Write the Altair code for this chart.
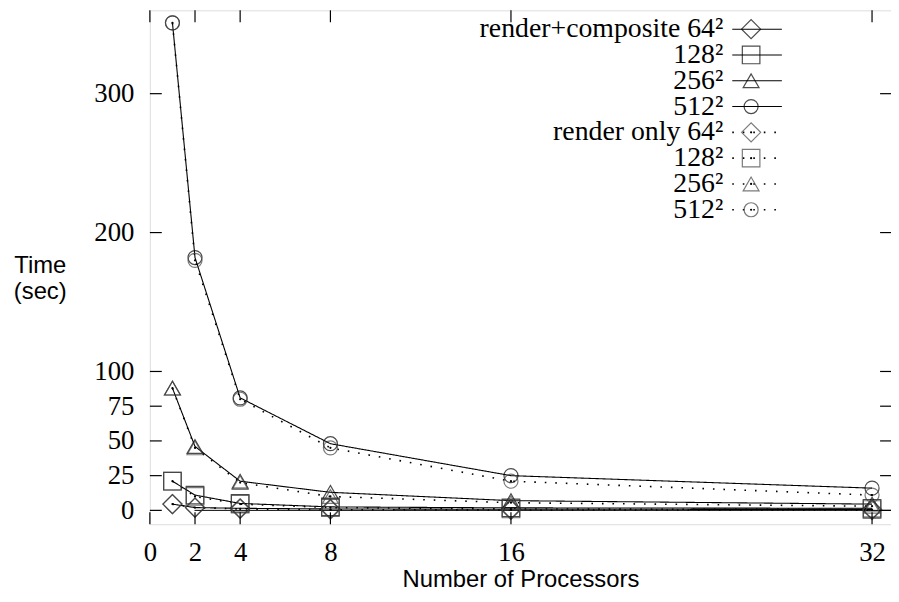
import altair as alt
import pandas as pd

# ---------------- data ----------------
procs = [1, 2, 4, 8, 16, 32]
sizes = ["64²", "128²", "256²", "512²"]

rc_64 = [4.5, 2.0, 1.5, 1.0, 0.8, 0.7]
rc_128 = [21, 11, 5, 2.5, 1.8, 1.5]
rc_256 = [88, 46, 21, 13, 7, 4.5]
rc_512 = [351, 182, 81, 48, 25, 16]

ro_64 = [4.5, 2.0, 1.0, 0.5, 0.3, 0.2]
ro_128 = [21, 10, 4.5, 2.0, 1.0, 0.6]
ro_256 = [88, 45, 20, 10, 5.5, 3]
ro_512 = [351, 180, 80, 45, 21, 11]

x_ticks = [0, 2, 4, 8, 16, 32]
y_ticks = [0, 25, 50, 75, 100, 200, 300]

legend_labels = ["render+composite 64²", "128²", "256²", "512²",
                 "render only 64²", "128²", "256²", "512²"]

# ---------------- layout constants ----------------
W, H = 747, 518
SERIF = "Liberation Serif"
SANS = "Liberation Sans"

rows = []
series = [("rc", s, v) for s, v in zip(sizes, [rc_64, rc_128, rc_256, rc_512])] + \
         [("ro", s, v) for s, v in zip(sizes, [ro_64, ro_128, ro_256, ro_512])]
for kind, s, vals in series:
    for p, v in zip(procs, vals):
        rows.append({"kind": kind, "size": s, "series": kind + s, "procs": p, "time": v})
df = pd.DataFrame(rows)

leg = pd.DataFrame({
    "label": legend_labels,
    "kind": ["rc"] * 4 + ["ro"] * 4,
    "size": sizes * 2,
    "row": list(range(8)),
})
leg["ypix"] = 19 + 26 * leg["row"]

xscale = alt.Scale(domain=[0, 32.84], nice=False, zero=False)
yscale = alt.Scale(domain=[-10, 360], nice=False, zero=False)

shape_scale = alt.Scale(domain=sizes, range=["diamond", "square", "triangle-up", "circle"])
size_scale = alt.Scale(domain=sizes, range=[370, 200, 420, 150])
dash_scale = alt.Scale(domain=["rc", "ro"], range=[[1, 0], [1.6, 9]])
stroke_scale = alt.Scale(domain=["rc", "ro"], range=["#000000", "#444444"])
width_scale = alt.Scale(domain=["rc", "ro"], range=[1.1, 1.6])

base = alt.Chart(df)

lines = base.mark_line(color="black").encode(
    x=alt.X("procs:Q", scale=xscale,
            axis=alt.Axis(values=x_ticks, ticks=False, domain=False, grid=False,
                          labelFlush=False, labelOverlap=False,
                          labelFont=SERIF, labelFontSize=27, labelPadding=16,
                          labelColor="black", title="Number of Processors",
                          titleFont=SANS, titleFontSize=24, titleFontWeight="normal",
                          titleColor="black", titlePadding=2)),
    y=alt.Y("time:Q", scale=yscale,
            axis=alt.Axis(values=y_ticks, ticks=False, domain=False, grid=False,
                          labelFlush=False, labelOverlap=False,
                          labelFont=SERIF, labelFontSize=27, labelPadding=16,
                          labelColor="black", title=["Time", "(sec)"],
                          titleFont=SANS, titleFontSize=24, titleFontWeight="normal",
                          titleColor="black", titleAngle=0, titleAlign="center",
                          titleBaseline="middle", titleX=-111, titleY=257,
                          titleLineHeight=26)),
    detail="series:N",
    strokeDash=alt.StrokeDash("kind:N", scale=dash_scale, legend=None),
    strokeWidth=alt.StrokeWidth("kind:N", scale=width_scale, legend=None),
)

points = base.mark_point(filled=False, strokeWidth=1.2).encode(
    x=alt.X("procs:Q", scale=xscale),
    y=alt.Y("time:Q", scale=yscale),
    shape=alt.Shape("size:N", scale=shape_scale, legend=None),
    size=alt.Size("size:N", scale=size_scale, legend=None),
    stroke=alt.Stroke("kind:N", scale=stroke_scale, legend=None),
)

dots = base.transform_filter(alt.datum.kind == "ro").mark_circle(
    size=5, color="black", opacity=1).encode(
    x=alt.X("procs:Q", scale=xscale),
    y=alt.Y("time:Q", scale=yscale),
)

tick_y = alt.Chart(pd.DataFrame({"v": y_ticks}))
tick_x = alt.Chart(pd.DataFrame({"v": x_ticks}))
ticks_left = tick_y.mark_rule(color="black", strokeWidth=1.2).encode(
    y=alt.Y("v:Q", scale=yscale), x=alt.value(0), x2=alt.value(12))
ticks_right = tick_y.mark_rule(color="black", strokeWidth=1.2).encode(
    y=alt.Y("v:Q", scale=yscale), x=alt.value(W - 11), x2=alt.value(W))
ticks_bottom = tick_x.mark_rule(color="black", strokeWidth=1.2).encode(
    x=alt.X("v:Q", scale=xscale), y=alt.value(H), y2=alt.value(H - 12))
ticks_top = tick_x.mark_rule(color="black", strokeWidth=1.2).encode(
    x=alt.X("v:Q", scale=xscale), y=alt.value(0), y2=alt.value(12))

zero_line = alt.Chart(pd.DataFrame({"v": [0]})).mark_rule(
    color="black", strokeWidth=1).encode(
    y=alt.Y("v:Q", scale=yscale), x=alt.value(45), x2=alt.value(W))

# ---------------- legend (gnuplot style) ----------------
lb = alt.Chart(leg)
leg_text = lb.mark_text(align="right", baseline="middle", font=SERIF,
                        fontSize=28, color="black").encode(
    x=alt.value(578), y=alt.Y("ypix:Q", scale=None), text="label:N")
leg_line = lb.mark_rule(color="black").encode(
    x=alt.value(587), x2=alt.value(637), y=alt.Y("ypix:Q", scale=None),
    strokeDash=alt.StrokeDash("kind:N", scale=dash_scale, legend=None),
    strokeWidth=alt.StrokeWidth("kind:N", scale=width_scale, legend=None))
leg_pt = lb.mark_point(filled=False, strokeWidth=1.2).encode(
    x=alt.value(606), y=alt.Y("ypix:Q", scale=None),
    shape=alt.Shape("size:N", scale=shape_scale, legend=None),
    size=alt.Size("size:N", scale=size_scale, legend=None),
    stroke=alt.Stroke("kind:N", scale=stroke_scale, legend=None))
leg_dot = lb.transform_filter(alt.datum.kind == "ro").mark_circle(
    size=5, color="black", opacity=1).encode(
    x=alt.value(606), y=alt.Y("ypix:Q", scale=None))

chart = alt.layer(
    zero_line, lines, points, dots,
    ticks_left, ticks_right, ticks_bottom, ticks_top,
    leg_line, leg_pt, leg_dot, leg_text,
).properties(
    width=W, height=H,
    autosize=alt.AutoSizeParams(type="none"),
    padding={"left": 143, "top": 0, "right": 0, "bottom": 76},
).configure_view(
    stroke="black", strokeWidth=1.2
).configure(background="white")

chart.save("out.html", embed_options={"renderer": "svg", "actions": False})
